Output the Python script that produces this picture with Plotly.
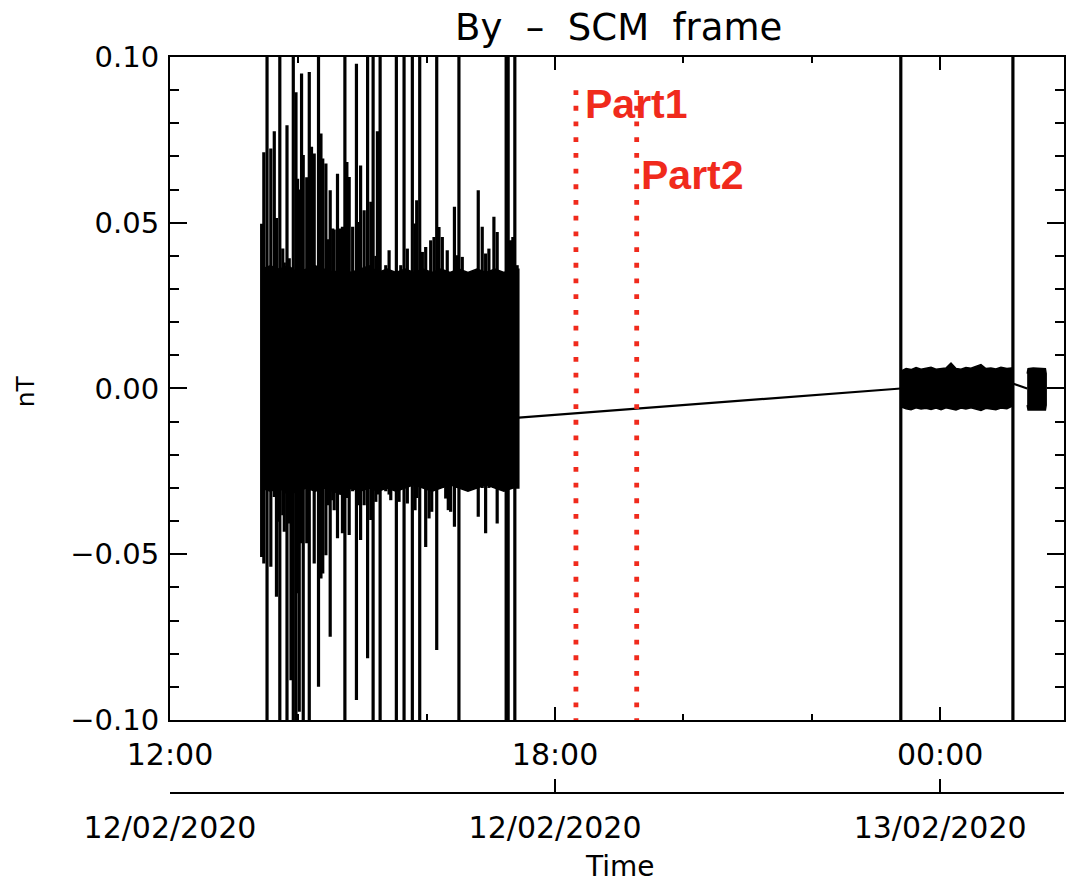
import plotly.graph_objects as go

# ---------------- data (time in hours since 00:00 on 12/02/2020) ----------------
# dense high-amplitude segment: core envelope of the oscillation
band1_t = [13.428, 13.563, 13.703, 13.843, 13.983, 14.123, 14.263, 14.403, 14.543, 14.683,
           14.823, 14.963, 15.103, 15.243, 15.383, 15.523, 15.663, 15.803, 15.943, 16.083,
           16.223, 16.363, 16.503, 16.643, 16.783, 16.923, 17.063, 17.203, 17.343, 17.435]
band1_hi = [0.036, 0.037, 0.036, 0.037, 0.035, 0.036, 0.037, 0.036, 0.035, 0.036,
            0.035, 0.036, 0.037, 0.035, 0.036, 0.035, 0.036, 0.035, 0.036, 0.035,
            0.036, 0.035, 0.036, 0.035, 0.036, 0.035, 0.036, 0.035, 0.036, 0.036]
band1_lo = [-0.030, -0.031, -0.030, -0.032, -0.031, -0.030, -0.031, -0.030, -0.031, -0.032,
            -0.030, -0.031, -0.030, -0.031, -0.030, -0.031, -0.030, -0.029, -0.030, -0.031,
            -0.030, -0.029, -0.030, -0.031, -0.030, -0.029, -0.030, -0.031, -0.030, -0.030]

# individual spikes: time, maximum, minimum (off-scale spikes beyond +/-0.10)
spike_t = [13.428, 13.462, 13.512, 13.571, 13.625, 13.659, 13.680, 13.711, 13.757, 13.781,
           13.823, 13.858, 13.885, 13.921, 13.963, 13.988, 14.014, 14.050, 14.076, 14.103,
           14.131, 14.170, 14.205, 14.247, 14.314, 14.352, 14.380, 14.429, 14.465, 14.496,
           14.535, 14.558, 14.610, 14.652, 14.687, 14.725, 14.756, 14.792, 14.846, 14.905,
           14.932, 14.970, 15.025, 15.079, 15.129, 15.165, 15.207, 15.232, 15.274, 15.362,
           15.414, 15.440, 15.527, 15.569, 15.596, 15.647, 15.698, 15.776, 15.818, 15.844,
           15.891, 15.932, 15.984, 16.036, 16.062, 16.078, 16.114, 16.156, 16.191, 16.243,
           16.296, 16.320, 16.336, 16.373, 16.432, 16.476, 16.502, 16.554, 16.803, 16.865,
           16.918, 16.969, 17.047, 17.098, 17.238, 17.269, 17.306, 17.342, 17.373, 17.409,
           23.387, 25.134]
spike_hi = [0.0497, 0.0713, 0.15, 0.0724, 0.0776, 0.0514, 0.030, 0.15, 0.0422, 0.038,
            0.0794, 0.0393, 0.036, 0.15, 0.0894, 0.0633, 0.060, 0.095, 0.0704, 0.030,
            0.0637, 0.0955, 0.0729, 0.0709, 0.15, 0.0769, 0.0694, 0.0679, 0.045, 0.0598,
            0.0483, 0.048, 0.0648, 0.0483, 0.0488, 0.15, 0.0683, 0.0638, 0.0488, 0.098,
            0.0502, 0.0673, 0.0538, 0.15, 0.0563, 0.15, 0.040, 0.0776, 0.15, 0.0372,
            0.0417, 0.030, 0.15, 0.030, 0.0372, 0.15, 0.0422, 0.15, 0.0498, 0.0568,
            0.15, 0.0412, 0.0427, 0.030, 0.0447, 0.030, 0.0457, 0.15, 0.0487, 0.0457,
            0.030, 0.0417, 0.030, 0.030, 0.0548, 0.0402, 0.15, 0.0397, 0.0598, 0.0488,
            0.0407, 0.0422, 0.0518, 0.0472, 0.15, 0.15, 0.0447, 0.0457, 0.15, 0.0372,
            0.15, 0.15]
spike_lo = [-0.0508, -0.0528, -0.15, -0.0538, -0.0327, -0.0628, -0.0402, -0.15, -0.0382, -0.0432,
            -0.15, -0.0407, -0.088, -0.15, -0.15, -0.0618, -0.0975, -0.0467, -0.15, -0.0302,
            -0.0467, -0.15, -0.030, -0.0528, -0.090, -0.0573, -0.0558, -0.0503, -0.0352, -0.0749,
            -0.0337, -0.0367, -0.0452, -0.032, -0.0437, -0.15, -0.033, -0.0442, -0.031, -0.094,
            -0.0352, -0.0457, -0.0352, -0.0814, -0.0397, -0.15, -0.0342, -0.032, -0.15, -0.031,
            -0.032, -0.0337, -0.15, -0.0342, -0.030, -0.15, -0.0347, -0.15, -0.0367, -0.033,
            -0.15, -0.030, -0.0478, -0.0392, -0.030, -0.0372, -0.030, -0.0789, -0.030, -0.030,
            -0.0332, -0.030, -0.0367, -0.0372, -0.0417, -0.030, -0.15, -0.030, -0.0387, -0.030,
            -0.0437, -0.030, -0.030, -0.0407, -0.15, -0.15, -0.030, -0.030, -0.15, -0.030,
            -0.15, -0.15]

# interpolated line across the data gaps
gap_t = [17.435, 23.387, None, 25.134, 25.356]
gap_v = [-0.0088, 0.0, None, 0.0015, 0.0]

# low-amplitude segment after the gap
band2_t = [23.387, 23.470, 23.547, 23.625, 23.703, 23.780, 23.858, 23.936, 24.014, 24.091,
           24.169, 24.247, 24.325, 24.402, 24.480, 24.558, 24.636, 24.713, 24.791, 24.869,
           24.947, 25.040, 25.134]
band2_hi = [0.0052, 0.0060, 0.0057, 0.0063, 0.0058, 0.0061, 0.0064, 0.0058, 0.0060, 0.0062,
            0.0077, 0.0060, 0.0058, 0.0063, 0.0061, 0.0066, 0.0072, 0.0060, 0.0062, 0.0059,
            0.0064, 0.0060, 0.0062]
band2_lo = [-0.0055, -0.0061, -0.0064, -0.0058, -0.0062, -0.0060, -0.0063, -0.0059, -0.0064, -0.0058,
            -0.0061, -0.0065, -0.0059, -0.0062, -0.0058, -0.0063, -0.0066, -0.0060, -0.0062, -0.0064,
            -0.0059, -0.0061, -0.0052]

# short final segment
band3_t = [25.356, 25.370, 25.450, 25.550, 25.640, 25.652]
band3_hi = [0.0045, 0.0060, 0.0062, 0.0060, 0.0060, 0.0045]
band3_lo = [-0.0050, -0.0065, -0.0066, -0.0065, -0.0065, -0.0050]

# marked intervals
part_names = ["Part1", "Part2"]
part_t = [18.325, 19.272]
part_top = 0.090
part_label_t = [18.431, 19.301]
part_label_v = [0.0859, 0.0645]

# axis ticks
x_tickvals = [12, 18, 24]
x_ticktext = ["12:00", "18:00", "00:00"]
date_ticktext = ["12/02/2020", "12/02/2020", "13/02/2020"]
y_tickvals = [-0.10, -0.05, 0.0, 0.05, 0.10]
y_ticktext = ["\u22120.10", "\u22120.05", "0.00", "0.05", "0.10"]

X_RANGE = [12, 25.93]
Y_RANGE = [-0.10, 0.10]

# ---------------- figure ----------------
FONT = "DejaVu Sans"
RED = "#f02a1c"
fig = go.Figure()


def band_trace(t, hi, lo):
    return go.Scatter(x=t + t[::-1], y=hi + lo[::-1], fill="toself", fillcolor="black",
                      mode="lines", line=dict(color="black", width=1.5), hoverinfo="skip",
                      showlegend=False)


fig.add_trace(band_trace(band1_t, band1_hi, band1_lo))

sx, sy = [], []
for t, hi, lo in zip(spike_t, spike_hi, spike_lo):
    sx += [t, t, None]
    sy += [lo, hi, None]
fig.add_trace(go.Scatter(x=sx, y=sy, mode="lines", line=dict(color="black", width=3.2),
                         hoverinfo="skip", showlegend=False))

fig.add_trace(go.Scatter(x=gap_t, y=gap_v, mode="lines", line=dict(color="black", width=2.2),
                         hoverinfo="skip", showlegend=False))
fig.add_trace(band_trace(band2_t, band2_hi, band2_lo))
fig.add_trace(band_trace(band3_t, band3_hi, band3_lo))

for t in part_t:
    fig.add_trace(go.Scatter(x=[t, t], y=[part_top, Y_RANGE[0]], mode="lines",
                             line=dict(color=RED, width=4.8, dash="4.8px,10.9px"),
                             hoverinfo="skip", showlegend=False))

# invisible trace to activate the lower date axis
fig.add_trace(go.Scatter(x=X_RANGE, y=[None, None], xaxis="x2", mode="lines",
                         hoverinfo="skip", showlegend=False))

annotations = []
for name, t, v in zip(part_names, part_label_t, part_label_v):
    annotations.append(dict(x=t, y=v, xref="x", yref="y", text=name, showarrow=False,
                            xanchor="left", yanchor="middle",
                            font=dict(family="Liberation Sans", size=41, color=RED, weight="bold")))
annotations += [
    dict(x=0.5022, y=1.0401, xref="paper", yref="paper", text="By\u00a0\u00a0\u2013\u00a0\u00a0SCM\u00a0\u00a0frame",
         showarrow=False, xanchor="center", yanchor="middle",
         font=dict(family=FONT, size=37, color="black")),
    dict(x=0.5033, y=-0.0992, xref="paper", yref="paper", text="Time", showarrow=False,
         xanchor="center", yanchor="middle", font=dict(family=FONT, size=28, color="black")),
    dict(x=-0.1607, y=0.5462, xref="paper", yref="paper", text="nT", showarrow=False,
         textangle=-90, xanchor="center", yanchor="middle",
         font=dict(family=FONT, size=25, color="black")),
]

fig.update_layout(
    width=1066, height=882, autosize=False,
    margin=dict(l=170, r=0, t=57, b=89, pad=0),
    paper_bgcolor="white", plot_bgcolor="white",
    showlegend=False,
    annotations=annotations,
    xaxis=dict(range=X_RANGE, showgrid=False, zeroline=False, showline=True, linecolor="black",
               linewidth=2, mirror="ticks", ticks="inside", ticklen=13, tickwidth=2,
               tickcolor="black", tickmode="array", tickvals=x_tickvals, ticktext=x_ticktext,
               tickfont=dict(family=FONT, size=30, color="black"), ticklabelstandoff=7,
               minor=dict(ticks="inside", dtick=2, tick0=12, ticklen=5.5, tickwidth=2,
                          tickcolor="black", showgrid=False),
               anchor="y", fixedrange=True),
    xaxis2=dict(range=X_RANGE, overlaying="x", anchor="free", position=0, side="bottom",
                showgrid=False, zeroline=False, showline=True, linecolor="black", linewidth=2,
                ticks="inside", ticklen=13, tickwidth=2, tickcolor="black", tickmode="array",
                tickvals=x_tickvals, ticktext=date_ticktext,
                tickfont=dict(family=FONT, size=30, color="black"), ticklabelstandoff=8,
                fixedrange=True),
    yaxis=dict(range=Y_RANGE, domain=[0.0992, 1], showgrid=False, zeroline=False, showline=True,
               linecolor="black", linewidth=2, mirror="ticks", ticks="inside", ticklen=17,
               tickwidth=2, tickcolor="black", tickmode="array", tickvals=y_tickvals,
               ticktext=y_ticktext, tickfont=dict(family=FONT, size=29, color="black"),
               ticklabelstandoff=3,
               minor=dict(ticks="inside", dtick=0.01, tick0=0, ticklen=8.6, tickwidth=2,
                          tickcolor="black", showgrid=False),
               fixedrange=True),
)

fig.write_html("out.html")
